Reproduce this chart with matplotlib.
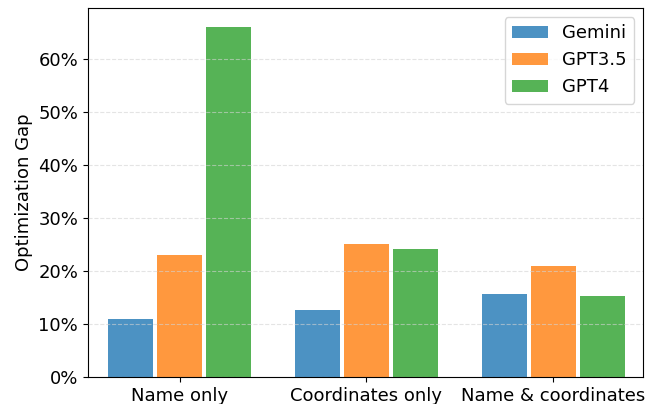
import numpy as np
import matplotlib
matplotlib.use("Agg")
import matplotlib.pyplot as plt
from matplotlib.ticker import PercentFormatter

# values (optimization gap, %)
categories = ["Name only", "Coordinates only", "Name & coordinates"]
models = ["Gemini", "GPT3.5", "GPT4"]
gemini = [11.0, 12.7, 15.6]
gpt35 = [23.1, 25.1, 21.0]
gpt4 = [66.0, 24.2, 15.3]

colors = ["#1f77b4", "#ff7f0e", "#2ca02c"]
series = [gemini, gpt35, gpt4]

fig, ax = plt.subplots(figsize=(6.51, 4.04), dpi=100)
x = np.arange(len(categories))
w = 0.24
for i, (vals, c, name) in enumerate(zip(series, colors, models)):
    ax.bar(x + (i - 1) * 0.262, vals, width=w, color=c, alpha=0.8, label=name, zorder=2)

# dashed grid drawn over the bars
ax.grid(axis="y", linestyle="--", color="lightgray", alpha=0.6, zorder=3)
ax.set_axisbelow(False)
ax.set_xticks(x)
ax.set_xticklabels(categories, fontsize=13)
ax.tick_params(axis="y", labelsize=13)
ax.yaxis.set_major_formatter(PercentFormatter(decimals=0))
ax.set_ylim(0, 69.6)
ax.set_xlim(-0.49, 2.48)
ax.set_ylabel("Optimization Gap", fontsize=13)
ax.legend(fontsize=13, loc="upper right")

plt.subplots_adjust(left=0.135, right=0.988, top=0.98, bottom=0.067)
plt.savefig("out.png")
